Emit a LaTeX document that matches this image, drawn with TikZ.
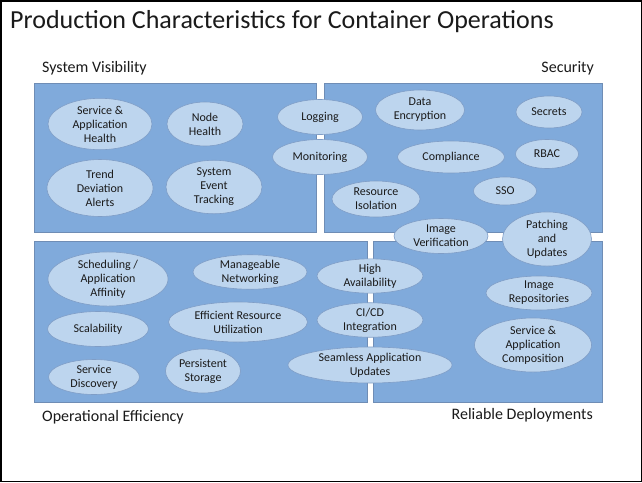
\documentclass[tikz,border=0pt]{standalone}
\usepackage{fontspec}
\setmainfont{Carlito}
\usetikzlibrary{shapes.geometric}
\definecolor{panelfill}{HTML}{80AADB}
\definecolor{paneldraw}{HTML}{6F8DB5}
\definecolor{ellfill}{HTML}{BDD5EE}
\definecolor{elldraw}{HTML}{7F9DC6}
\definecolor{txt}{HTML}{1A1A1A}
\tikzset{
  panel/.style={fill=panelfill, draw=paneldraw, line width=0.6pt},
  ell/.style={ellipse, fill=ellfill, draw=elldraw, line width=0.6pt, inner sep=0pt,
    align=center, text=txt, font=\fontsize{12}{14}\selectfont},
  seclabel/.style={text=txt, font=\fontsize{16}{18}\selectfont, inner sep=0pt},
}
\begin{document}
\begin{tikzpicture}[x=1pt,y=-1pt]
\useasboundingbox (0,0) rectangle (642,482);
\fill[white] (0,0) rectangle (642,482);
\draw[black, line width=1.5pt] (0.75,0.75) rectangle (641.25,481.25);
\node[anchor=west, text=txt, font=\fontsize{26}{30}\selectfont, inner sep=0pt] (title) at (10,22) {Production Characteristics for Container Operations};
% panels
\draw[panel] (34,83) rectangle (316,232);
\draw[panel] (324,83) rectangle (602,232);
\draw[panel] (34,241) rectangle (367,402);
\draw[panel] (373,241) rectangle (602,402);
% labels
\node[seclabel, anchor=west] (lsv) at (42,68) {System Visibility};
\node[seclabel, anchor=east] (lsec) at (594,68) {Security};
\node[seclabel, anchor=west] (lope) at (42,417) {Operational Efficiency};
\node[seclabel, anchor=east] (lrel) at (593,415) {Reliable Deployments};
% system visibility
\node[ell, minimum width=104, minimum height=50] (sah) at (100,124) {Service \&\\Application\\Health};
\node[ell, minimum width=76, minimum height=44] (nh) at (205,124) {Node\\Health};
\node[ell, minimum width=106, minimum height=57] (tda) at (100,188) {Trend\\Deviation\\Alerts};
\node[ell, minimum width=96, minimum height=53] (set) at (214,187) {System\\Event\\Tracking};
\node[ell, minimum width=85, minimum height=35] (log) at (320,117) {Logging};
\node[ell, minimum width=95, minimum height=35] (mon) at (320,157) {Monitoring};
% security
\node[ell, minimum width=89, minimum height=40] (de) at (420,110) {Data\\Encryption};
\node[ell, minimum width=66, minimum height=32] (sec) at (549,112) {Secrets};
\node[ell, minimum width=107, minimum height=32] (comp) at (451,157) {Compliance};
\node[ell, minimum width=63, minimum height=29] (rbac) at (547,154) {RBAC};
\node[ell, minimum width=63, minimum height=28] (sso) at (505,191) {SSO};
\node[ell, minimum width=88, minimum height=36] (ri) at (376,199) {Resource\\Isolation};
\node[ell, minimum width=94, minimum height=35] (iv) at (441,236) {Image\\Verification};
\node[ell, minimum width=89, minimum height=48] (pu) at (547,239) {Patching\\and\\Updates};
% reliable deployments
\node[ell, minimum width=106, minimum height=34] (ha) at (370,276) {High\\Availability};
\node[ell, minimum width=106, minimum height=34] (cicd) at (370,320) {CI/CD\\Integration};
\node[ell, minimum width=164, minimum height=36] (sau) at (370,365) {Seamless Application\\Updates};
\node[ell, minimum width=106, minimum height=34] (ir) at (539,293) {Image\\Repositories};
\node[ell, minimum width=117, minimum height=50] (sac) at (533,345) {Service \&\\Application\\Composition};
% operational efficiency
\node[ell, minimum width=120, minimum height=45] (sched) at (108,279) {Scheduling /\\Application\\Affinity};
\node[ell, minimum width=114, minimum height=32] (mn) at (250,272) {Manageable\\Networking};
\node[ell, minimum width=101, minimum height=35] (scal) at (98,329) {Scalability};
\node[ell, minimum width=139, minimum height=40] (eru) at (238,322) {Efficient Resource\\Utilization};
\node[ell, minimum width=91, minimum height=35] (sd) at (94,377) {Service\\Discovery};
\node[ell, minimum width=75, minimum height=44] (ps) at (203,371) {Persistent\\Storage};
\end{tikzpicture}
\end{document}
